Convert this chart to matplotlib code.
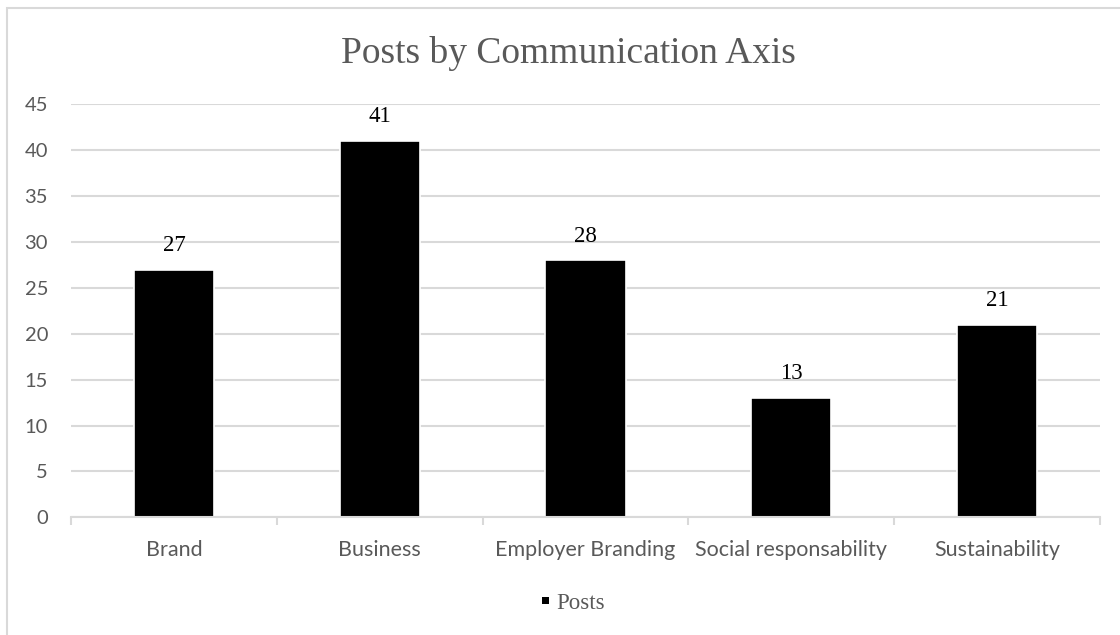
import matplotlib
matplotlib.use("Agg")
import matplotlib.pyplot as plt
from matplotlib.patches import Rectangle
import numpy as np

categories = ["Brand", "Business", "Employer Branding", "Social responsability", "Sustainability"]
posts = [27, 41, 28, 13, 21]
y_ticks = [0, 5, 10, 15, 20, 25, 30, 35, 40, 45]
title = "Posts by Communication Axis"
series_name = "Posts"

W, H = 1120, 635
fig = plt.figure(figsize=(W / 100, H / 100), dpi=100)
fig.patch.set_facecolor("white")

# outer chart border (left and top visible)
fig.add_artist(Rectangle((7 / W, -0.1), 1.2, (1 - 8 / H) + 0.1, transform=fig.transFigure,
                         fill=False, edgecolor="#d9d9d9", linewidth=1.5))

ax = fig.add_axes([71 / W, 117.7 / H, (1100 - 71) / W, (517.3 - 104.3) / H])
x = np.arange(len(categories))
bars = ax.bar(x, posts, width=0.39, color="black", edgecolor="white", linewidth=1.2, zorder=3)

ax.set_ylim(0, 45)
ax.set_xlim(-0.5, len(categories) - 0.5)
ax.set_yticks(y_ticks)
ax.yaxis.grid(True, color="#d9d9d9", linewidth=1.5, zorder=0)
ax.set_axisbelow(True)
for s in ["top", "right", "left"]:
    ax.spines[s].set_visible(False)
ax.spines["bottom"].set_color("#d9d9d9")
ax.spines["bottom"].set_linewidth(1.5)
ax.spines["bottom"].set_zorder(4)

sans = ["Lato", "DejaVu Sans"]
serif = ["Liberation Serif", "DejaVu Serif"]
ax.tick_params(axis="y", length=0, pad=16.5, labelsize=14.5, labelcolor="#595959")
for lab in ax.get_yticklabels():
    lab.set_family(sans)
ax.set_xticks(x)
ax.set_xticklabels(categories, fontsize=15.5, color="#595959", family=sans)
ax.tick_params(axis="x", which="major", length=0, pad=16)
ax.set_xticks(np.arange(-0.5, len(categories)), minor=True)
ax.tick_params(axis="x", which="minor", length=6, width=1.5, color="#d9d9d9")

for xi, v in zip(x, posts):
    ax.annotate(str(v), (xi, v), xytext=(0, 13.5), textcoords="offset points",
                ha="center", va="baseline", fontsize=16.5, color="black", family=serif)

fig.text(568 / W, 1 - 63.3 / H, title, ha="center", va="baseline", fontsize=27,
         color="#595959", family=serif)

# legend
fig.add_artist(Rectangle(((545 - 3.5) / W, 1 - (600.7 + 3.5) / H), 7 / W, 7 / H,
                         transform=fig.transFigure, facecolor="black", edgecolor="none"))
fig.text(556 / W, 1 - 609 / H, series_name, ha="left", va="baseline", fontsize=16.5,
         color="#595959", family=serif)

fig.savefig("out.png", dpi=100)
